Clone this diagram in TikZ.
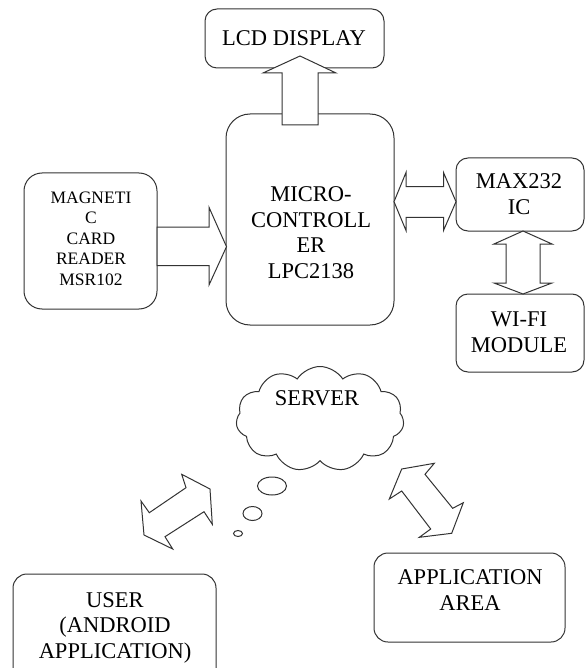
\documentclass[tikz,border=0pt]{standalone}
\usepackage{fontspec}
\setmainfont{Liberation Serif}
\usetikzlibrary{shapes.symbols,shapes.geometric}
\newcommand\bigtxt{\fontsize{22.5}{25.5}\selectfont}
\newcommand\smtxt{\fontsize{17.5}{20.5}\selectfont}
\definecolor{linecol}{HTML}{333333}
\tikzset{
  box/.style={draw=linecol, line width=1pt, rectangle, inner sep=0pt},
  blockarrow/.style={draw=linecol, fill=white, line width=1pt, line join=miter},
  txt/.style={font=\bigtxt, align=center, anchor=base, inner sep=0pt, text=black},
  smalltxt/.style={font=\smtxt, align=center, anchor=base, inner sep=0pt, text=black},
  bubble/.style={draw=linecol, line width=1pt, ellipse, inner sep=0pt}
}
\begin{document}
\begin{tikzpicture}[x=1pt,y=-1pt]
\path[use as bounding box] (0,0) rectangle (585,668);
\clip (0,0) rectangle (585,668);

% boxes
\node[box, rounded corners=12pt, minimum width=179pt, minimum height=59pt] (lcd) at (294.5,38.5) {};
\node[box, rounded corners=24pt, minimum width=168pt, minimum height=211pt] (mcu) at (310,219.5) {};
\node[box, rounded corners=18pt, minimum width=133pt, minimum height=136pt] (msr) at (90.5,241) {};
\node[box, rounded corners=12pt, minimum width=128pt, minimum height=73pt] (max) at (520,194.5) {};
\node[box, rounded corners=12pt, minimum width=128pt, minimum height=78pt] (wifi) at (520,333) {};
\node[box, rounded corners=14pt, minimum width=191pt, minimum height=89pt] (app) at (469.5,597.5) {};
\node[box, rounded corners=14pt, minimum width=203pt, minimum height=116pt] (user) at (114.5,632) {};

% server cloud and thought bubbles
\node[cloud, draw=linecol, line width=1pt, cloud puffs=11, cloud puff arc=115, cloud ignores aspect,
      minimum width=168pt, minimum height=105pt, inner sep=0pt] (server) at (320,419) {};
\node[bubble, minimum width=29pt, minimum height=18pt] (b1) at (272,486) {};
\node[bubble, minimum width=19pt, minimum height=14pt] (b2) at (252.5,513.5) {};
\node[bubble, minimum width=9pt, minimum height=6pt] (b3) at (238,533.5) {};

% block arrows
\draw[blockarrow] (282,125) -- (282,73) -- (263,73) -- (300,56) -- (336,73) -- (318,73) -- (318,125) -- cycle;
\draw[blockarrow] (157,227) -- (209,227) -- (209,207.3) -- (226.5,246.7) -- (209,285) -- (209,265.7) -- (157,265.7) -- cycle;
\draw[blockarrow] (394,201.7) -- (406,172.5) -- (406,186.7) -- (443.5,186.7) -- (443.5,172.5) -- (456,201.7)
  -- (443.5,230.5) -- (443.5,217.3) -- (406,217.3) -- (406,230.5) -- cycle;
\draw[blockarrow] (523,231) -- (552,244) -- (540,244) -- (540,283) -- (552,283) -- (523,294)
  -- (494,283) -- (506,283) -- (506,244) -- (494,244) -- cycle;
\draw[blockarrow] (186,487.7) -- (181.7,474.3) -- (210,489) -- (212.3,524.3) -- (204,511.7)
  -- (165,536.7) -- (172.7,549) -- (144,535) -- (141,501) -- (149.3,512.7) -- cycle;
\draw[blockarrow] (401.7,469) -- (434.3,463.3) -- (425,474.3) -- (452.7,508.3) -- (463.3,502.7)
  -- (451.7,533.3) -- (419.3,537.3) -- (430.7,529) -- (401.7,491) -- (389.3,499) -- cycle;

% texts (anchor base = baseline of the last line)
\node[txt] (lcdt) at (294,46) {LCD DISPLAY};
\node[txt] (mcut) at (311,278) {MICRO-\\CONTROLL\\ER\\LPC2138};
\node[smalltxt] (msrt) at (91,285) {MAGNETI\\C\\CARD\\READER\\MSR102};
\node[txt] (maxt) at (519,214.5) {MAX232\\IC};
\node[txt] (wifit) at (519,352) {WI-FI\\MODULE};
\node[txt] (servert) at (317,405) {SERVER};
\node[txt] (appt) at (470,610) {APPLICATION\\AREA};
\node[txt] (usert) at (115,658) {USER\\(ANDROID\\APPLICATION)};
\end{tikzpicture}
\end{document}
